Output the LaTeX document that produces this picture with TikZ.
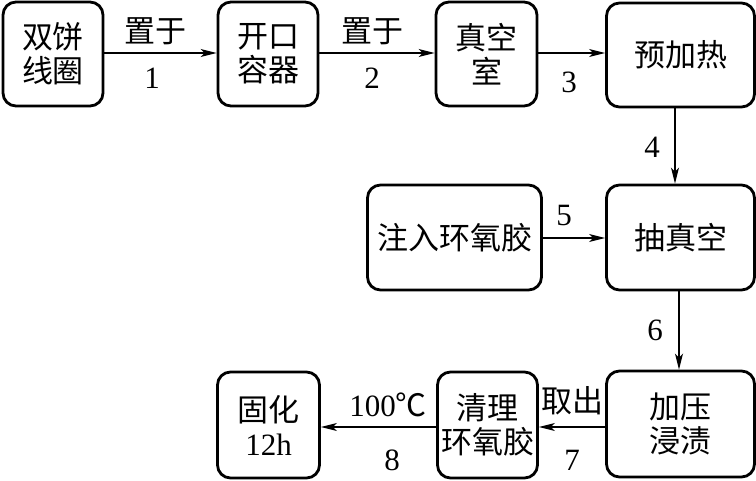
\documentclass[tikz,border=0pt]{standalone}
\usepackage{fontspec}
\setmainfont{Liberation Serif}
\newfontfamily\zh{Noto Sans CJK SC}
\usetikzlibrary{arrows.meta}
\tikzset{
  box/.style={draw, line width=2.8pt, rounded corners=13pt, align=center,
    font=\fontsize{31}{34}\selectfont\zh, inner sep=0pt},
  flow/.style={line width=1.4pt, -{Stealth[length=16pt,width=8pt,inset=4pt]}},
  lbl/.style={font=\fontsize{31}{34}\selectfont, inner sep=0pt}
}
\begin{document}
\begin{tikzpicture}[x=1pt,y=-1pt]
\useasboundingbox (0,0) rectangle (756,480);
\node[box, minimum width=100pt, minimum height=104pt] (A) at (53,54) {双饼\\线圈};
\node[box, minimum width=100pt, minimum height=104pt] (B) at (268,54) {开口\\容器};
\node[box, minimum width=101pt, minimum height=104pt] (C) at (486.5,54) {真空\\室};
\node[box, minimum width=148pt, minimum height=104pt] (D) at (680.5,55) {预加热};
\node[box, minimum width=174pt, minimum height=105pt] (E) at (454.5,237.5) {注入环氧胶};
\node[box, minimum width=148pt, minimum height=105pt] (F) at (680.5,237.5) {抽真空};
\node[box, minimum width=148pt, minimum height=106pt] (G) at (680.5,424) {加压\\浸渍};
\node[box, minimum width=100pt, minimum height=106pt] (H) at (487.5,425) {清理\\环氧胶};
\node[box, minimum width=102pt, minimum height=106pt] (I) at (268.5,425) {固化\\\rmfamily 12h};

\coordinate (c1) at (675,0);
\draw[flow] (A.east |- 0,53) -- (B.west |- 0,53);
\draw[flow] (B.east |- 0,53) -- (C.west |- 0,53);
\draw[flow] (C.east |- 0,53) -- (D.west |- 0,53);
\draw[flow] (D.south -| c1) -- (F.north -| c1);
\draw[flow] (E.east |- 0,238) -- (F.west |- 0,238);
\coordinate (c2) at (679,0);
\draw[flow] (F.south -| c2) -- (G.north -| c2);
\draw[flow] (G.west |- 0,427) -- (H.east |- 0,427);
\draw[flow] (H.west |- 0,427) -- (I.east |- 0,427);

\node[lbl] (l1a) at (155,31) {\zh 置于};
\node[lbl] (l1b) at (152,78) {1};
\node[lbl] (l2a) at (372,31) {\zh 置于};
\node[lbl] (l2b) at (372,78) {2};
\node[lbl] (l3) at (569,82) {3};
\node[lbl] (l4) at (652,147) {4};
\node[lbl] (l5) at (564,215) {5};
\node[lbl] (l6) at (655,330) {6};
\node[lbl] (l7a) at (572,401) {\zh 取出};
\node[lbl] (l7b) at (572,460) {7};
\node[lbl] (l8a) at (388,405) {100{\zh ℃}};
\node[lbl] (l8b) at (392,460) {8};
\end{tikzpicture}
\end{document}
